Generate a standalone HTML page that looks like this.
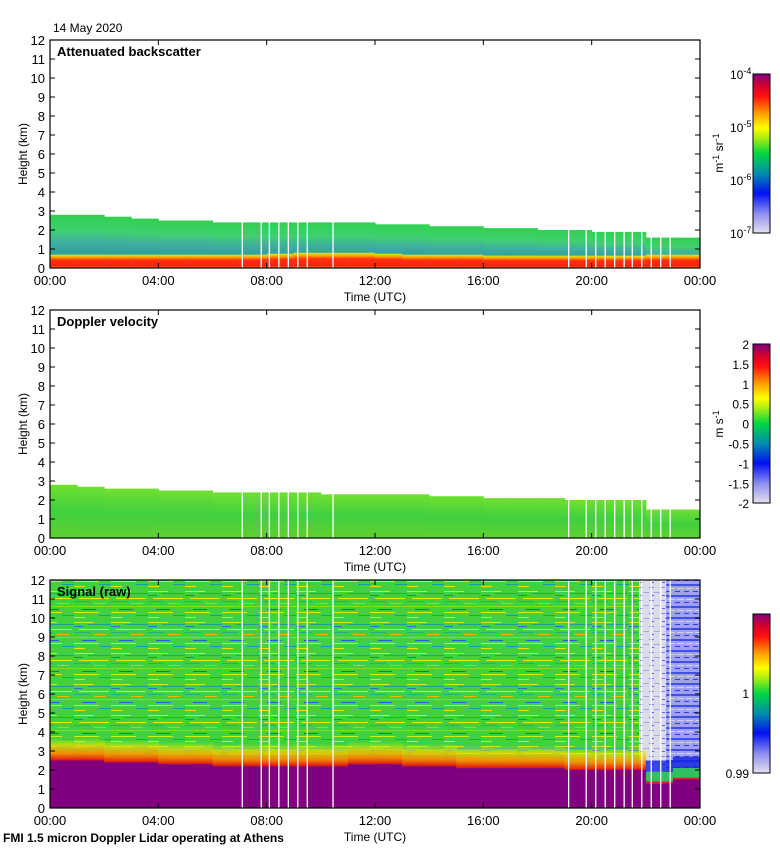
<!DOCTYPE html>
<html><head><meta charset="utf-8">
<style>
html,body{margin:0;padding:0;background:#fff;}
svg{display:block;font-family:"Liberation Sans",sans-serif;}
</style></head>
<body>
<svg id="chart" width="780" height="850" viewBox="0 0 780 850" xmlns="http://www.w3.org/2000/svg">
<defs>
<linearGradient id="cmap" x1="0" y1="1" x2="0" y2="0">
<stop offset="0" stop-color="#e4e0ee"/><stop offset="0.12" stop-color="#9090f0"/>
<stop offset="0.25" stop-color="#0010f0"/><stop offset="0.37" stop-color="#008ab0"/>
<stop offset="0.5" stop-color="#00d840"/><stop offset="0.6" stop-color="#b0ee10"/>
<stop offset="0.66" stop-color="#ffff00"/><stop offset="0.75" stop-color="#ffa000"/>
<stop offset="0.86" stop-color="#ff1010"/><stop offset="0.93" stop-color="#d00030"/>
<stop offset="1" stop-color="#800080"/>
</linearGradient>
<linearGradient id="bsGrad" x1="0" y1="1" x2="0" y2="0">
<stop offset="0" stop-color="#40c890"/><stop offset="0.3" stop-color="#30a0a0"/>
<stop offset="0.5" stop-color="#40b0a0"/><stop offset="0.7" stop-color="#40d070"/>
<stop offset="1" stop-color="#30d050"/>
</linearGradient>
<linearGradient id="blGrad" x1="0" y1="1" x2="0" y2="0">
<stop offset="0" stop-color="#ff9000"/><stop offset="0.15" stop-color="#ff2010"/>
<stop offset="0.6" stop-color="#ff3010"/><stop offset="0.8" stop-color="#ffa000"/>
<stop offset="1" stop-color="#d0f020"/>
</linearGradient>
<linearGradient id="dvGrad" x1="0" y1="1" x2="0" y2="0">
<stop offset="0" stop-color="#60d030"/><stop offset="0.5" stop-color="#40d040"/>
<stop offset="1" stop-color="#70e030"/>
</linearGradient>
<pattern id="noise" width="37" height="31" patternUnits="userSpaceOnUse">
<rect width="37" height="31" fill="#40d040"/>
<rect y="2" width="20" height="1" fill="#c0f020"/>
<rect x="14" y="4" width="23" height="1" fill="#20a090"/>
<rect y="6" width="9" height="1" fill="#3070d0"/>
<rect x="5" y="9" width="30" height="1" fill="#e0f000"/>
<rect y="12" width="16" height="1" fill="#20b080"/>
<rect x="20" y="14" width="12" height="1" fill="#ffb000"/>
<rect y="17" width="37" height="1" fill="#80e020"/>
<rect x="8" y="20" width="14" height="1" fill="#2060e0"/>
<rect y="23" width="25" height="1" fill="#d0f010"/>
<rect x="25" y="26" width="12" height="1" fill="#10a0a0"/>
<rect y="28" width="11" height="1" fill="#f0e000"/>
</pattern>
<pattern id="grayNoise" width="11" height="13" patternUnits="userSpaceOnUse">
<rect width="11" height="13" fill="#dcdce8"/>
<rect y="2" width="5" height="1" fill="#8080f0"/>
<rect x="5" y="7" width="6" height="1" fill="#a8a8f0"/>
<rect x="2" y="10" width="3" height="1" fill="#6060f0"/>
</pattern>
<pattern id="blueNoise" width="9" height="11" patternUnits="userSpaceOnUse">
<rect width="9" height="11" fill="#a0a0f0"/>
<rect y="1" width="9" height="2" fill="#4050e8"/>
<rect x="2" y="5" width="7" height="1" fill="#d0d0f0"/>
<rect y="8" width="5" height="1" fill="#3040e0"/>
</pattern>
<linearGradient id="sigBand" x1="0" y1="1" x2="0" y2="0">
<stop offset="0" stop-color="#e01010"/><stop offset="0.3" stop-color="#ff8000" stop-opacity="0.9"/>
<stop offset="0.7" stop-color="#f0e000" stop-opacity="0.7"/><stop offset="1" stop-color="#c0f020" stop-opacity="0"/>
</linearGradient>
</defs>
<g id="layer"></g>
</svg>
<script>
// hourly data (00..23 UTC)
const hours = [0,1,2,3,4,5,6,7,8,9,10,11,12,13,14,15,16,17,18,19,20,21,22,23];
const bsTop = [2.8,2.8,2.7,2.6,2.5,2.5,2.4,2.4,2.4,2.4,2.4,2.4,2.3,2.3,2.2,2.2,2.1,2.1,2.0,2.0,1.9,1.9,1.6,1.6];
const blTop = [0.5,0.5,0.5,0.5,0.5,0.5,0.5,0.5,0.55,0.6,0.6,0.6,0.55,0.5,0.5,0.5,0.45,0.45,0.45,0.45,0.45,0.45,0.5,0.5];
const dvTop = [2.8,2.7,2.6,2.6,2.5,2.5,2.4,2.4,2.4,2.4,2.3,2.3,2.3,2.3,2.2,2.2,2.1,2.1,2.1,2.0,2.0,2.0,1.5,1.5];
const sigTop = [2.5,2.5,2.4,2.4,2.3,2.3,2.2,2.2,2.2,2.2,2.2,2.3,2.3,2.2,2.2,2.1,2.1,2.1,2.1,2.0,2.0,2.0,1.3,1.5];
const gapTimes = [7.1,7.8,8.1,8.45,8.8,9.15,9.5,10.45,19.15,19.8,20.15,20.5,20.85,21.2,21.5,21.85,22.2,22.55,22.9];
const xTickLabels = ["00:00","04:00","08:00","12:00","16:00","20:00","00:00"];
const yTicks = [0,1,2,3,4,5,6,7,8,9,10,11,12];
const panels = [
 {name:"backscatter", title:"Attenuated backscatter", bottom:268},
 {name:"doppler", title:"Doppler velocity", bottom:538},
 {name:"signal", title:"Signal (raw)", bottom:808}
];
const NS="http://www.w3.org/2000/svg";
const L=document.getElementById('layer');
const X0=50,X1=700,KM=19;
function xs(t){return X0+t*(X1-X0)/24;}
function ys(p,k){return p.bottom-k*KM;}
function el(tag,attrs,parent,txt){const e=document.createElementNS(NS,tag);for(const k in attrs)e.setAttribute(k,attrs[k]);if(txt!==undefined)e.textContent=txt;(parent||L).appendChild(e);return e;}

panels.forEach((p,pi)=>{
 const g=el('g',{});
 
 
 const top=ys(p,12);
 if(pi===0){
  hours.forEach((h,i)=>{
   const x=xs(h),w=xs(h+1)-x+0.5;
   const r=el('rect',{x:x,y:ys(p,bsTop[i]),width:w,height:bsTop[i]*KM,fill:'url(#bsGrad)'},g);
   
   
   const b=el('rect',{x:x,y:ys(p,blTop[i]+0.2),width:w,height:(blTop[i]+0.2)*KM,fill:'url(#blGrad)'},g);
   
   
  });
 } else if(pi===1){
  hours.forEach((h,i)=>{
   const x=xs(h),w=xs(h+1)-x+0.5;
   const r=el('rect',{x:x,y:ys(p,dvTop[i]),width:w,height:dvTop[i]*KM,fill:'url(#dvGrad)'},g);
   
   
  });
 } else {
  el('rect',{x:X0,y:top,width:xs(21.75)-X0,height:12*KM,fill:'url(#noise)'},g);
  el('rect',{x:xs(21.75),y:top,width:xs(22.75)-xs(21.75),height:12*KM,fill:'url(#grayNoise)'},g);
  el('rect',{x:xs(22.75),y:top,width:X1-xs(22.75),height:12*KM,fill:'url(#blueNoise)'},g);
  hours.forEach((h,i)=>{
   const x=xs(h),w=xs(h+1)-x+0.5;
   if(h<22){
    el('rect',{x:x,y:ys(p,sigTop[i]+1.2),width:w,height:1.2*KM,fill:'url(#sigBand)'},g);
   } else {
    el('rect',{x:x,y:ys(p,sigTop[i]+1.2),width:w,height:0.6*KM,fill:'#1020e0',opacity:0.8},g);
    el('rect',{x:x,y:ys(p,sigTop[i]+0.6),width:w,height:0.5*KM,fill:'#30c060'},g);
    el('rect',{x:x,y:ys(p,sigTop[i]+0.1),width:w,height:0.1*KM,fill:'#e02020'},g);
   }
   const r=el('rect',{x:x,y:ys(p,sigTop[i]),width:w,height:sigTop[i]*KM,fill:'#800080'},g);
   
   
  });
 }
 gapTimes.forEach(t=>{
  const gl=el('line',{x1:xs(t),x2:xs(t),y1:top,y2:p.bottom,stroke:'#fff','stroke-width':1.3},g);
  
  
 });
 el('rect',{x:X0,y:top,width:X1-X0,height:12*KM,fill:'none',stroke:'#000','stroke-width':1.2},g);
 yTicks.forEach(k=>{
  const y=ys(p,k);
  el('line',{x1:X0,x2:X0+5,y1:y,y2:y,stroke:'#000'},g);
  el('line',{x1:X1-5,x2:X1,y1:y,y2:y,stroke:'#000'},g);
  const t=el('text',{x:45,y:y+5,'text-anchor':'end','font-size':13},g,String(k));
  
  
 });
 xTickLabels.forEach((lab,i)=>{
  const x=xs(i*4);
  el('line',{x1:x,x2:x,y1:p.bottom,y2:p.bottom-5,stroke:'#000'},g);
  el('line',{x1:x,x2:x,y1:top,y2:top+5,stroke:'#000'},g);
  const t=el('text',{x:x,y:p.bottom+17,'text-anchor':'middle','font-size':13},g,lab);
  
  
 });
 const xt=el('text',{x:375,y:p.bottom+33,'text-anchor':'middle','font-size':12},g,'Time (UTC)');
 
 
 const yt=el('text',{x:0,y:0,'text-anchor':'middle','font-size':12,transform:`translate(27,${p.bottom-114}) rotate(-90)`},g,'Height (km)');
 
 
 const tt=el('text',{x:57,y:top+16,'font-size':13,'font-weight':'bold'},g,p.title);
 
 
 const cbTop=p.bottom-194;
 const cb=el('rect',{x:753,y:cbTop,width:17,height:159,fill:'url(#cmap)',stroke:'#000','stroke-width':1},g);
 
 
});

function lab(x,y,txt,name,size){const t=el('text',{x:x,y:y,'text-anchor':'end','font-size':size||12},L,txt);return t;}
const bsExp=["-4","-5","-6","-7"];
bsExp.forEach((e,i)=>{
 const t=el('text',{x:730,y:79+i*53,'font-size':12},L);
 
 
 el('tspan',{},t,'10');
 el('tspan',{dy:-5,'font-size':9},t,e);
});
const u1=el('text',{x:0,y:0,'font-size':12,'text-anchor':'middle',transform:'translate(723,153) rotate(-90)'},L);


el('tspan',{},u1,'m');el('tspan',{dy:-4,'font-size':9},u1,'-1');el('tspan',{dy:4},u1,' sr');el('tspan',{dy:-4,'font-size':9},u1,'-1');
const dvLabels=["2","1.5","1","0.5","0","-0.5","-1","-1.5","-2"];
dvLabels.forEach((s,i)=>lab(749,349+i*19.9,s,'colorbar-tick-label'));
const u2=el('text',{x:0,y:0,'font-size':12,'text-anchor':'middle',transform:'translate(723,424) rotate(-90)'},L);


el('tspan',{},u2,'m s');el('tspan',{dy:-4,'font-size':9},u2,'-1');
lab(749,698,'1','colorbar-tick-label');
lab(749,778,'0.99','colorbar-tick-label');

const d=el('text',{x:53,y:32,'font-size':12},L,'14 May 2020');


const f=el('text',{x:3,y:842,'font-size':12,'font-weight':'bold'},L,'FMI 1.5 micron Doppler Lidar operating at Athens');


</script>
</body></html>
